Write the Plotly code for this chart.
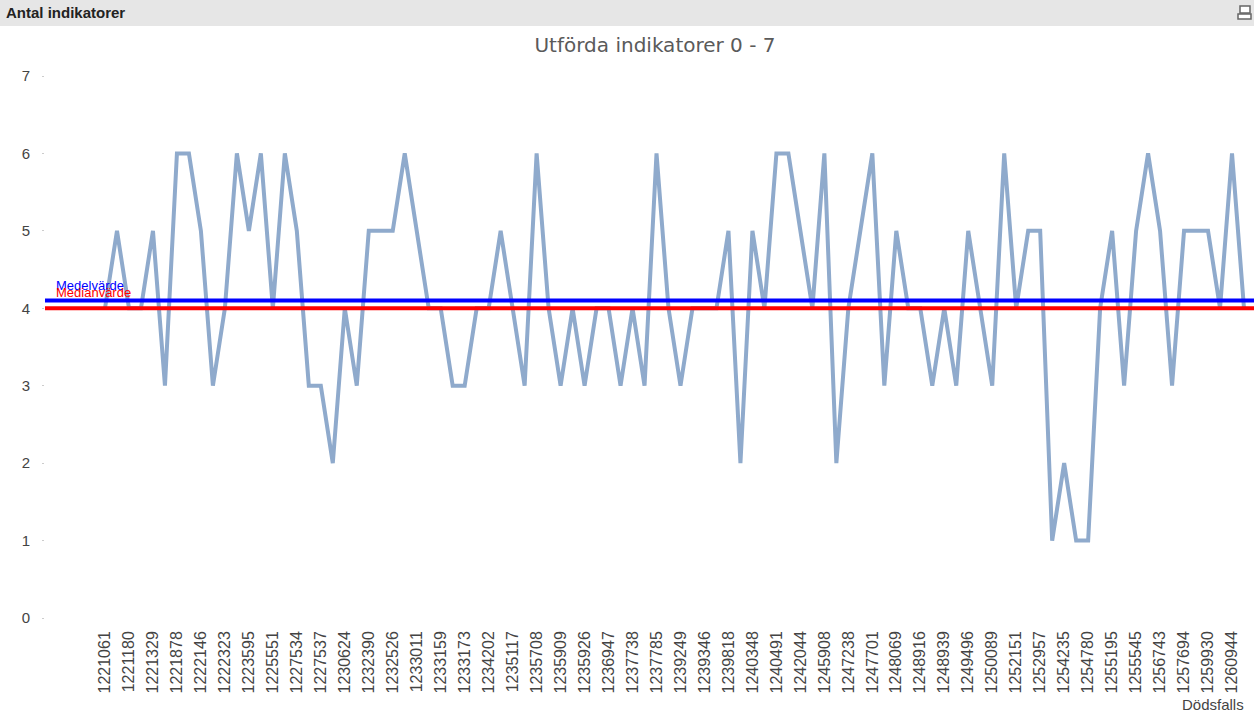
"""
Antal indikatorer - line chart of performed indicators per case
"""
import plotly.graph_objects as go

# Case ids shown on the x axis (every second case is labelled)
case_labels = [
    '1221061', '1221180', '1221329', '1221878', '1222146', '1222323',
    '1223595', '1225551', '1227534', '1227537', '1230624', '1232390',
    '1232526', '1233011', '1233159', '1233173', '1234202', '1235117',
    '1235708', '1235909', '1235926', '1236947', '1237738', '1237785',
    '1239249', '1239346', '1239818', '1240348', '1240491', '1242044',
    '1245908', '1247238', '1247701', '1248069', '1248916', '1248939',
    '1249496', '1250089', '1252151', '1252957', '1254235', '1254780',
    '1255195', '1255545', '1256743', '1257694', '1259930', '1260944',
]

# Number of performed indicators per case (0 - 7)
indicators = [
    4, 5, 4, 4, 5, 3, 6, 6, 5, 3,
    4, 6, 5, 6, 4, 6, 5, 3, 3, 2,
    4, 3, 5, 5, 5, 6, 5, 4, 4, 3,
    3, 4, 4, 5, 4, 3, 6, 4, 3, 4,
    3, 4, 4, 3, 4, 3, 6, 4, 3, 4,
    4, 4, 5, 2, 5, 4, 6, 6, 5, 4,
    6, 2, 4, 5, 6, 3, 5, 4, 4, 3,
    4, 3, 5, 4, 3, 6, 4, 5, 5, 1,
    2, 1, 1, 4, 5, 3, 5, 6, 5, 3,
    5, 5, 5, 4, 6, 4,
]

mean_value = 4.1    # Medelvärde
median_value = 4    # Medianvärde

W, H = 1254, 712
L, R, T, B = 45, 0, 76, 94
PW, PH = W - L - R, H - T - B


def px_x(px):
    return (px - L) / PW


def px_y(py):
    return (H - B - py) / PH


x_idx = list(range(len(indicators)))

fig = go.Figure()

fig.add_trace(go.Scatter(
    x=x_idx,
    y=indicators,
    mode='lines',
    line=dict(color='rgb(143,170,204)', width=4),
    hoverinfo='y',
    showlegend=False
))

fig.update_layout(
    width=W,
    height=H,
    margin=dict(l=L, r=R, t=T, b=B),
    paper_bgcolor='white',
    plot_bgcolor='white',
    font=dict(family='Liberation Sans, Arial, sans-serif', color='#444444'),
    showlegend=False,
    title=dict(
        text='Utförda indikatorer 0 - 7',
        x=655 / W,
        xanchor='center',
        y=1 - 45 / H,
        yanchor='middle',
        font=dict(family='DejaVu Sans, Verdana, sans-serif', size=20,
                  color='#5a5a5a')
    ),
    xaxis=dict(
        range=[-(105 - L) / 11.99, len(indicators) - 1 + 10 / 11.99],
        tickvals=x_idx[::2],
        ticktext=case_labels,
        tickangle=-90,
        tickfont=dict(size=16, color='#444444'),
        ticks='',
        ticklabelstandoff=9,
        showgrid=False,
        zeroline=False,
        showline=False
    ),
    yaxis=dict(
        range=[0, 7],
        dtick=1,
        tickfont=dict(size=15, color='#444444'),
        ticks='outside',
        ticklen=2,
        tickcolor='#cccccc',
        ticklabelstandoff=9,
        showgrid=False,
        zeroline=False,
        showline=False
    ),
    shapes=[
        # header bar
        dict(type='rect', xref='paper', yref='paper', layer='below',
             x0=px_x(0), x1=px_x(W), y0=px_y(26), y1=px_y(0),
             fillcolor='#e6e6e6', line=dict(width=0)),
        # printer icon
        dict(type='rect', xref='paper', yref='paper',
             x0=px_x(1240), x1=px_x(1250), y0=px_y(13), y1=px_y(6),
             fillcolor='white', line=dict(color='#666666', width=1.5)),
        dict(type='rect', xref='paper', yref='paper',
             x0=px_x(1238), x1=px_x(1251), y0=px_y(19), y1=px_y(14),
             fillcolor='white', line=dict(color='#666666', width=1.5)),
        # reference lines
        dict(type='line', xref='paper', yref='y', layer='above',
             x0=0, x1=1, y0=mean_value, y1=mean_value,
             line=dict(color='#0000ff', width=4)),
        dict(type='line', xref='paper', yref='y', layer='above',
             x0=0, x1=1, y0=median_value, y1=median_value,
             line=dict(color='#ff0000', width=4)),
    ],
    annotations=[
        dict(text='<b>Antal indikatorer</b>', xref='paper', yref='paper',
             x=px_x(4), y=px_y(13), xanchor='left', yanchor='middle',
             showarrow=False, font=dict(size=15, color='#222222')),
        dict(text='Medelvärde', xref='paper', yref='y',
             x=px_x(54), y=mean_value, xanchor='left', yanchor='bottom',
             yshift=6, showarrow=False,
             font=dict(size=13, color='#0000ff')),
        dict(text='Medianvärde', xref='paper', yref='y',
             x=px_x(54), y=median_value, xanchor='left', yanchor='bottom',
             yshift=6, showarrow=False,
             font=dict(size=13, color='#ff0000')),
        dict(text='Dödsfalls', xref='paper', yref='paper',
             x=px_x(1180), y=px_y(704), xanchor='left', yanchor='middle',
             showarrow=False, font=dict(size=15, color='#444444')),
    ]
)

fig.write_html("out.html", config={'displayModeBar': False},
               post_script="document.body.style.margin='0';")
